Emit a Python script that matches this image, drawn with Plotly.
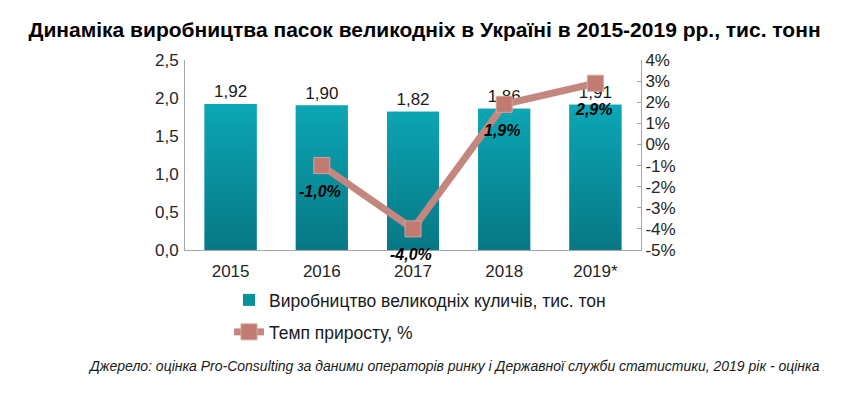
import plotly.graph_objects as go

years = ["2015", "2016", "2017", "2018", "2019*"]
production = [1.92, 1.90, 1.82, 1.86, 1.91]
production_labels = ["1,92", "1,90", "1,82", "1,86", "1,91"]
growth_years = ["2016", "2017", "2018", "2019*"]
growth = [-1.0, -4.0, 1.9, 2.9]
growth_labels = ["-1,0%", "-4,0%", "1,9%", "2,9%"]

left_ticks = [0, 0.5, 1.0, 1.5, 2.0, 2.5]
left_ticktext = ["0,0", "0,5", "1,0", "1,5", "2,0", "2,5"]
right_ticks = [-5, -4, -3, -2, -1, 0, 1, 2, 3, 4]
right_ticktext = [f"{v}%" for v in right_ticks]

# the page body adds an 8px offset; figure coordinates are compensated
OFF = 8
W, H = 857, 394
L, R, T, B = 185 - OFF, 641 - OFF, 60 - OFF, 250 - OFF
PW, PH = R - L, B - T
BAR_W = 0.57


def px(x):
    return (x - OFF - L) / PW


def py(y):
    return (B - (y - OFF)) / PH


FONT = "Arial, Liberation Sans, sans-serif"

fig = go.Figure()
fig.add_trace(go.Bar(
    x=list(range(len(years))), y=production, name="Виробництво великодніх куличів, тис. тон",
    marker=dict(color="#0b909e", line=dict(width=0)),
    width=BAR_W,
    text=production_labels, textposition="outside", cliponaxis=False,
    textfont=dict(size=17, color="#1a1a1a", family=FONT),
    legend="legend",
))

# vertical gradient overlay on each bar (built from the same data)
gx, gy = [], []
for i, v in enumerate(production):
    x0, x1 = i - BAR_W / 2, i + BAR_W / 2
    gx += [x0, x1, x1, x0, x0, None]
    gy += [0, 0, v, v, 0, None]
fig.add_trace(go.Scatter(
    x=gx, y=gy, mode="lines", fill="toself", line=dict(width=0, color="rgba(0,0,0,0)"),
    fillgradient=dict(type="vertical", colorscale=[[0, "#077884"], [1, "#0ca7b6"]]),
    showlegend=False, hoverinfo="skip",
))

fig.add_trace(go.Scatter(
    x=[years.index(g) for g in growth_years], y=growth, yaxis="y2", name="Темп приросту, %",
    mode="lines+markers",
    line=dict(color="#c4877f", width=7),
    marker=dict(symbol="square", size=16, color="#c27b73", line=dict(color="#d6a39b", width=1)),
    cliponaxis=False,
    legend="legend2",
))

annotations = []
for g, v, lab in zip(growth_years, growth, growth_labels):
    annotations.append(dict(
        x=years.index(g), y=v, xref="x", yref="y2", text=lab, showarrow=False,
        yshift=-26, xshift=-2,
        font=dict(size=16, color="#000000", family=FONT, weight="bold", style="italic"),
    ))

annotations.append(dict(
    text="<i>Джерело: оцінка Pro-Consulting за даними операторів ринку і Державної служби статистики, 2019 рік - оцінка</i>",
    xref="paper", yref="paper", x=px(822), y=py(366),
    xanchor="right", yanchor="middle", showarrow=False,
    font=dict(size=14, color="#1a1a1a", family=FONT),
))

fig.update_layout(
    width=W, height=H,
    margin=dict(l=L, r=W - R, t=T, b=H - B, autoexpand=False),
    paper_bgcolor="white", plot_bgcolor="white",
    font=dict(family=FONT, size=16, color="#333333"),
    title=dict(text="<b>Динаміка виробництва пасок великодніх в Україні в 2015-2019 рр., тис. тонн</b>",
               x=(424.5 - OFF) / W, xanchor="center", y=1 - (30 - OFF) / H, yanchor="middle",
               font=dict(size=21, color="#000000", family=FONT)),
    xaxis=dict(range=[-0.5, len(years) - 0.5], tickvals=list(range(len(years))), ticktext=years,
               showline=True, linecolor="#a6a6a6", linewidth=1, ticks="", ticklabelstandoff=6,
               tickfont=dict(size=17, color="#262626"), showgrid=False, zeroline=False),
    yaxis=dict(range=[0, 2.5], tickvals=left_ticks, ticktext=left_ticktext,
               showline=True, linecolor="#a6a6a6", showgrid=False, zeroline=False,
               ticks="", ticklabelstandoff=2,
               tickfont=dict(size=17, color="#262626")),
    yaxis2=dict(range=[-5, 4], tickvals=right_ticks, ticktext=right_ticktext,
                overlaying="y", side="right", showline=True, linecolor="#a6a6a6",
                showgrid=False, zeroline=False, ticks="inside", ticklen=4, tickcolor="#a6a6a6",
                tickfont=dict(size=17, color="#262626")),
    legend=dict(x=px(229), y=py(300), xanchor="left", yanchor="middle", bgcolor="rgba(0,0,0,0)",
                font=dict(size=17.5, color="#1a1a1a", family=FONT)),
    legend2=dict(x=px(229), y=py(332), xanchor="left", yanchor="middle", bgcolor="rgba(0,0,0,0)",
                 font=dict(size=17.5, color="#1a1a1a", family=FONT)),
    showlegend=True,
    annotations=annotations,
)

fig.write_html("out.html")
